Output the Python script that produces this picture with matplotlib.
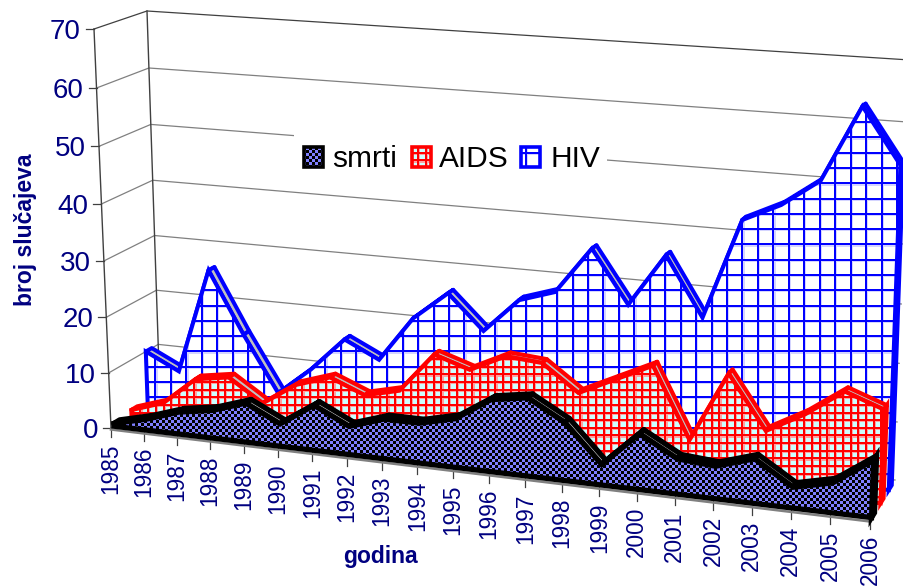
import numpy as np
import matplotlib
matplotlib.use("Agg")
import matplotlib.pyplot as plt
from matplotlib.patches import Polygon, Rectangle
from matplotlib.transforms import Transform

plt.rcParams['font.family'] = ['Liberation Sans', 'DejaVu Sans']

years = [str(y) for y in range(1985, 2007)]
hiv = [10, 7, 26, 15, 5, 10, 16, 13, 21, 26, 20, 26, 28, 36, 27, 36, 26, 43, 46, 50.5, 63, 54]
aids = [1, 3, 8, 9, 5, 9, 11, 8.5, 10, 17, 15, 18, 17.5, 13, 16, 19, 7, 19, 10, 13.5, 18, 15.7]
deaths = [0.5, 2, 4, 5, 7, 4, 8, 5, 7, 7, 8.5, 12.5, 13.5, 10, 3.5, 9.5, 6, 5.5, 7.5, 3.5, 5, 9.5]
y_ticks = [0, 10, 20, 30, 40, 50, 60, 70]

NAVY = '#000080'
W, H = 904, 586

# corners of the chart box in pixels: bottom left, top left, bottom right, top right
FRONT = np.array([[111, 428], [94, 29], [870, 520], [886, 80]], dtype=float)
BACK = np.array([[160, 398], [147, 11], [895, 480], [910, 60]], dtype=float)


class PlaneTransform(Transform):
    # (year index, value) -> pixel, on a plane at some depth of the 3D box
    input_dims = 2
    output_dims = 2

    def __init__(self, depth):
        super().__init__()
        dst = FRONT + (BACK - FRONT) * depth
        src = [(0, 0), (0, 70), (21, 0), (21, 70)]
        a, b = [], []
        for (u, v), (x, y) in zip(src, dst):
            a.append([u, v, 1, 0, 0, 0, -u * x, -v * x])
            a.append([0, 0, 0, u, v, 1, -u * y, -v * y])
            b += [x, y]
        self.mat = np.append(np.linalg.solve(np.array(a), np.array(b)), 1).reshape(3, 3)

    def transform_non_affine(self, values):
        values = np.asarray(values, dtype=float)
        pts = np.column_stack([values, np.ones(len(values))]) @ self.mat.T
        return pts[:, :2] / pts[:, 2:]


def grid_texture(period_x, period_y, x0, y0, line, ghost, back):
    xx, yy = np.meshgrid(np.arange(W), np.arange(H))
    px = (xx - x0) % period_x
    py = (yy - y0) % period_y
    tex = np.empty((H, W, 3))
    tex[:] = matplotlib.colors.to_rgb(back)
    tex[(px < 3.2) | (py < 3.2)] = matplotlib.colors.to_rgb(ghost)
    tex[(px < 2) | (py < 2)] = matplotlib.colors.to_rgb(line)
    return tex


def checker_texture(size, a, b):
    xx, yy = np.meshgrid(np.arange(W), np.arange(H))
    tex = np.empty((H, W, 3))
    tex[:] = matplotlib.colors.to_rgb(a)
    tex[((xx // size + yy // size) % 2) == 0] = matplotlib.colors.to_rgb(b)
    return tex


def textured(ax, pts, tex, edge, lw, z):
    poly = Polygon(pts, closed=True, facecolor='none', edgecolor=edge, linewidth=lw,
                   joinstyle='miter', zorder=z + 0.1)
    ax.add_patch(poly)
    im = ax.imshow(tex, extent=(0, W, H, 0), interpolation='nearest', aspect='auto', zorder=z)
    im.set_clip_path(poly)


def draw_band(ax, values, depth, width, tex, edge, lw, z):
    front = PlaneTransform(depth)
    back = PlaneTransform(depth + width)
    n = len(values)
    top = np.column_stack([np.arange(n), values])
    tf = front.transform(top)
    tb = back.transform(top)
    # top surface, one strip per year, then the closing side at 2006
    for i in range(n - 1):
        ax.add_patch(Polygon([tf[i], tf[i + 1], tb[i + 1], tb[i]], closed=True, facecolor='#c0c0c0',
                             edgecolor=edge, linewidth=lw, joinstyle='round', zorder=z))
    base = np.array([[n - 1, 0]], dtype=float)
    ax.add_patch(Polygon([tf[-1], tb[-1], back.transform(base)[0], front.transform(base)[0]], closed=True,
                         facecolor='#c0c0c0', edgecolor=edge, linewidth=lw, zorder=z))
    # front face
    outline = np.vstack([[[0, 0]], top, [[n - 1, 0]]])
    textured(ax, front.transform(outline), tex, edge, lw, z + 0.2)


fig = plt.figure(figsize=(W / 100, H / 100), dpi=100)
ax = fig.add_axes([0, 0, 1, 1])

front_plane = PlaneTransform(0)
back_plane = PlaneTransform(1)
last = len(years) - 1

# walls and gridlines
for v in y_ticks:
    colour = '#404040' if v == 70 else '#808080'
    p0 = front_plane.transform([[0, v]])[0]
    p1 = back_plane.transform([[0, v]])[0]
    p2 = back_plane.transform([[last, v]])[0]
    ax.plot([p0[0], p1[0], p2[0]], [p0[1], p1[1], p2[1]], color=colour, lw=0.9, zorder=1)
    ax.plot([p0[0] - 8, p0[0]], [p0[1], p0[1]], color='#404040', lw=0.9, zorder=1)
    ax.text(p0[0] - 13, p0[1] + 3, str(v), color=NAVY, fontsize=20, ha='right', va='center')

for plane in (front_plane, back_plane):
    edge = plane.transform([[0, 0], [0, 70]])
    ax.plot(edge[:, 0], edge[:, 1], color='#404040', lw=1.0, zorder=1.2)

# white box behind the legend hides the gridlines
ax.add_patch(Rectangle((294, 128), 313, 47, facecolor='white', edgecolor='none', zorder=1.5))

blue_tex = grid_texture(15.45, 15.28, 741, 136, '#0000ff', '#d4d4ff', 'white')
red_tex = grid_texture(7.72, 7.64, 741, 136, '#ff0000', '#ffa0a0', '#ccffff')
black_tex = checker_texture(3, '#8080ff', '#000000')

draw_band(ax, hiv, 0.75, 0.12, blue_tex, '#0000ff', 2.9, 2)
draw_band(ax, aids, 0.42, 0.12, red_tex, '#ff0000', 3.0, 3)

# floor edge under the front band, with the year ticks
floor = front_plane.transform([[0, 0], [last, 0]])
ax.plot(floor[:, 0], floor[:, 1] + 1.5, color='#808080', lw=1.8, zorder=3.8)
draw_band(ax, deaths, 0.06, 0.12, black_tex, '#000000', 3.8, 4)

for i, label in enumerate(years):
    p = front_plane.transform([[i, 0]])[0]
    ax.plot([p[0], p[0]], [p[1], p[1] + 9], color='#404040', lw=0.9, zorder=1)
    ax.text(p[0], p[1] + 15, label, color=NAVY, fontsize=16.3, rotation=90, ha='center', va='top')

ax.text(380, 556, 'godina', color=NAVY, fontsize=16.5, fontweight='bold', ha='center', va='center')
ax.text(26, 230, 'broj slučajeva', color=NAVY, fontsize=16.5, fontweight='bold', rotation=90,
        ha='center', va='center')

# legend
for x, tex, edge, label, tx in [(304, black_tex, '#000000', 'smrti', 332),
                                (412, red_tex, '#ff0000', 'AIDS', 439),
                                (521, blue_tex, '#0000ff', 'HIV', 551)]:
    corners = [(x, 147), (x + 19, 147), (x + 19, 167), (x, 167)]
    textured(ax, corners, tex, edge, 2.6, 6)
    ax.text(tx, 167, label, color='black', fontsize=21.5, ha='left', va='baseline', zorder=6)

ax.set_xlim(0, W)
ax.set_ylim(H, 0)
ax.axis('off')

fig.savefig('out.png', dpi=100)
